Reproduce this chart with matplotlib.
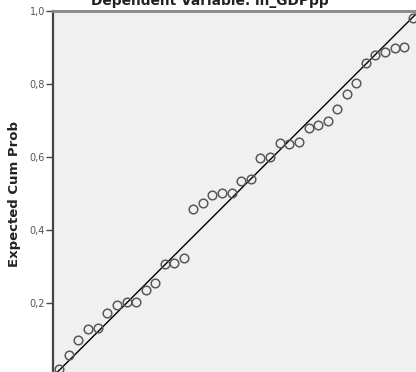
import matplotlib
matplotlib.use("Agg")
import matplotlib.pyplot as plt
from matplotlib.ticker import FuncFormatter

# Normal P-P plot of regression standardized residual (38 cases)
observed_cum_prob = [
    0.016, 0.042, 0.068, 0.095, 0.121, 0.147, 0.173, 0.200, 0.226, 0.252,
    0.279, 0.305, 0.331, 0.357, 0.383, 0.409, 0.435, 0.461, 0.488, 0.514,
    0.540, 0.566, 0.593, 0.619, 0.645, 0.671, 0.698, 0.723, 0.750, 0.775,
    0.802, 0.827, 0.854, 0.880, 0.907, 0.933, 0.959, 0.984,
]
expected_cum_prob = [
    0.018, 0.058, 0.100, 0.129, 0.132, 0.172, 0.194, 0.203, 0.203, 0.237,
    0.256, 0.308, 0.310, 0.324, 0.457, 0.473, 0.497, 0.501, 0.502, 0.533,
    0.540, 0.596, 0.601, 0.638, 0.637, 0.641, 0.679, 0.687, 0.700, 0.732,
    0.774, 0.804, 0.857, 0.879, 0.887, 0.899, 0.901, 0.982,
]
y_ticks = [0.2, 0.4, 0.6, 0.8, 1.0]
title = "Dependent Variable: ln_GDPpp"
y_label = "Expected Cum Prob"

fig = plt.figure(figsize=(4.16, 3.72), dpi=100)
fig.patch.set_facecolor("white")

# the original is a crop of a larger SPSS chart: axes run past the right and bottom edges
ax = fig.add_axes([0.1286, -0.0108, 0.8786, 0.9812])
ax.set_facecolor("#f0f0f0")

ax.plot([0, 1], [0, 1], color="black", linewidth=1.0, zorder=2)
ax.plot(observed_cum_prob, expected_cum_prob, linestyle="none", marker="o",
        markersize=6.2, markerfacecolor="none", markeredgecolor="#595959",
        markeredgewidth=1.1, zorder=3, clip_on=False)

ax.set_xlim(0, 1)
ax.set_ylim(0, 1)
ax.set_yticks(y_ticks)
ax.yaxis.set_major_formatter(FuncFormatter(lambda v, p: f"{v:.1f}".replace(".", ",")))
ax.set_xticks([])
ax.tick_params(axis="y", length=5, width=1, color="#444444", labelsize=7,
               labelcolor="#555555", pad=1)

for side in ["right", "bottom"]:
    ax.spines[side].set_visible(False)
ax.spines["left"].set_color("#444444")
ax.spines["left"].set_linewidth(1.6)
ax.spines["top"].set_color("#888888")
ax.spines["top"].set_linewidth(2)

ax.set_ylabel(y_label, fontsize=9.5, fontweight="bold", color="#222222")
ax.yaxis.set_label_coords(-0.09, 0.5)
fig.text(210 / 416, 1 - 5 / 372, title, ha="center", va="baseline",
         fontsize=9.9, fontweight="bold", color="#222222")

fig.savefig("out.png", dpi=100)
